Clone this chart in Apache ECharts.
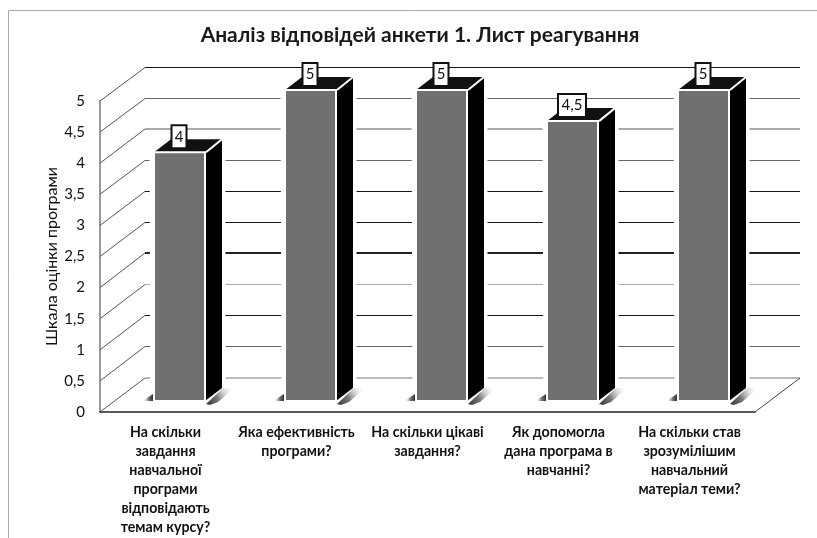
<!DOCTYPE html>
<html><head><meta charset="utf-8">
<style>html,body{margin:0;padding:0;background:#fff}#c{width:817px;height:538px}</style>
<script src="https://cdn.jsdelivr.net/npm/echarts@6/dist/echarts.min.js"></script>
</head><body><div id="c"></div>
<script>
const titleText = 'Аналіз відповідей анкети 1. Лист реагування';
const yAxisName = 'Шкала оцінки програми';
const categories = [
  'На скільки\nзавдання\nнавчальної\nпрограми\nвідповідають\nтемам курсу?',
  'Яка ефективність\nпрограми?',
  'На скільки цікаві\nзавдання?',
  'Як допомогла\nдана програма в\nнавчанні?',
  'На скільки став\nзрозумілішим\nнавчальний\nматеріал теми?'
];
const scores = [4, 5, 5, 4.5, 5];
const gridValues = [0, 0.5, 1, 1.5, 2, 2.5, 3, 3.5, 4, 4.5, 5];
const gridColors = ['#bbb', '#666', '#151515', '#aaa', '#222', '#151515', '#151515', '#666', '#aaa', '#666', '#151515'];
const gridWidths = [2, 1.2, 1.2, 1.2, 2, 1.2, 1.2, 1.2, 2, 1.2, 1.2];

const BACK = [45, -34.5];
const BAR_OFF = [14, -11];
const SIDE = [17, -13];
const BAR_W = 51;
const comma = v => String(v).replace('.', ',');

function renderWall(params, api) {
  const i = params.dataIndex, v = api.value(0);
  const cs = params.coordSys;
  const y = api.coord([0, v])[1];
  const x0 = cs.x, x1 = cs.x + cs.width;
  const bx = x0 + BACK[0], by = Math.round(y + BACK[1]) + (gridWidths[i] > 1.5 ? 0 : 0.5);
  const kids = [
    {type:'line', shape:{x1:x0, y1:y, x2:bx, y2:by}, style:{stroke:'#555', lineWidth:1}},
    {type:'line', shape:{x1:bx, y1:by, x2:x1 + BACK[0], y2:by}, style:{stroke:gridColors[i], lineWidth:gridWidths[i]}}
  ];
  if (v === 0) kids.push({type:'line', shape:{x1:x1, y1:y, x2:x1 + BACK[0], y2:by}, style:{stroke:'#444', lineWidth:1}});
  return {type:'group', children:kids};
}

function renderBar(params, api) {
  const c = api.coord([api.value(0), api.value(1)]);
  const b = api.coord([api.value(0), 0]);
  const l = c[0] + BAR_OFF[0] - BAR_W / 2, r = l + BAR_W;
  const t = c[1] + BAR_OFF[1], bt = b[1] + BAR_OFF[1];
  const sx = SIDE[0], sy = SIDE[1];
  const txt = comma(api.value(1));
  const boxW = txt.length > 1 ? 28 : 15, boxH = 23;
  const mx = (l + r) / 2 - 0.5, boxB = t - 4;
  const fade = (x, y, x2, y2) => ({type:'linear', x, y, x2, y2, colorStops:[{offset:0, color:'#333'}, {offset:0.4, color:'#777'}, {offset:1, color:'rgba(255,255,255,0)'}]});
  return {type:'group', children:[
    {type:'polygon', shape:{points:[[l-3,t+1],[l+sx-2,t+sy-2],[r+sx+2,t+sy-2],[r+sx+2,bt+sy],[r+2,bt+2],[l-2,bt+2]]}, style:{fill:'#fff', stroke:'#fff', lineWidth:3}},
    {type:'polygon', shape:{points:[[r+1,bt+3],[r+sx+1,bt+sy],[r+sx+12,bt+sy],[r+13,bt+1],[r+5,bt+4]]}, style:{fill:fade(0,1,1,0)}},
    {type:'polygon', shape:{points:[[l-12,bt],[l-1,bt-7],[l-1,bt]]}, style:{fill:fade(1,0,0,0)}},
    {type:'polygon', shape:{points:[[l,t],[l+sx,t+sy],[r+sx,t+sy],[r,t]]}, style:{fill:'#111'}},
    {type:'polygon', shape:{points:[[r,t],[r+sx,t+sy],[r+sx,bt+sy],[r,bt]]}, style:{fill:'#000'}},
    {type:'rect', shape:{x:l, y:t, width:BAR_W, height:bt-t}, style:{fill:'#707070', stroke:'#fff', lineWidth:2}},
    {type:'line', shape:{x1:r+1, y1:t, x2:r+sx, y2:t+sy}, style:{stroke:'#fff', lineWidth:2}},
    {type:'rect', shape:{x:mx-boxW/2, y:boxB-boxH, width:boxW, height:boxH}, style:{fill:'#fff', stroke:'#111', lineWidth:2}},
    {type:'text', style:{x:mx, y:boxB-boxH/2, text:txt, fill:'#111', font:'15px Lato, Carlito, sans-serif', align:'center', verticalAlign:'middle'}}
  ]};
}

const chart = echarts.init(document.getElementById('c'), null, {renderer:'canvas'});
chart.setOption({
  animation:false,
  backgroundColor:'#fff',
  title:{text:titleText, left:415, top:20, textAlign:'center',
    textStyle:{fontFamily:'Lato, Carlito, sans-serif', fontSize:21, fontWeight:'bold', color:'#1a1a1a'}},
  graphic:[{type:'polyline', silent:true, shape:{points:[[8.5,538],[8.5,10.5],[817,10.5]]}, style:{stroke:'#aaa', lineWidth:1, fill:'none'}}],
  grid:{left:100, top:101, width:655, height:311},
  xAxis:{type:'category', data:categories,
    axisTick:{show:false}, axisLine:{lineStyle:{color:'#222', width:1.5}},
    axisLabel:{interval:0, margin:11, color:'#111', fontFamily:'Lato, Carlito, sans-serif', fontSize:14.2, fontWeight:'bold', lineHeight:19, align:'center'}},
  yAxis:{type:'value', min:0, max:5, interval:0.5, name:yAxisName, nameLocation:'middle', nameGap:40, nameMoveOverlap:false,
    nameTextStyle:{color:'#111', fontFamily:'Lato, Carlito, sans-serif', fontSize:16},
    splitLine:{show:false}, axisTick:{show:false},
    axisLine:{show:true, lineStyle:{color:'#999', width:2}},
    axisLabel:{margin:15, color:'#111', fontFamily:'Lato, Carlito, sans-serif', fontSize:15, formatter:comma}},
  series:[
    {type:'custom', z:1, silent:true, clip:false, data:gridValues.map(v=>[v]), encode:{y:0}, renderItem:renderWall},
    {type:'custom', z:2, silent:true, clip:false, data:scores.map((v,i)=>[i,v]), encode:{x:0,y:1}, renderItem:renderBar}
  ]
});
</script></body></html>
